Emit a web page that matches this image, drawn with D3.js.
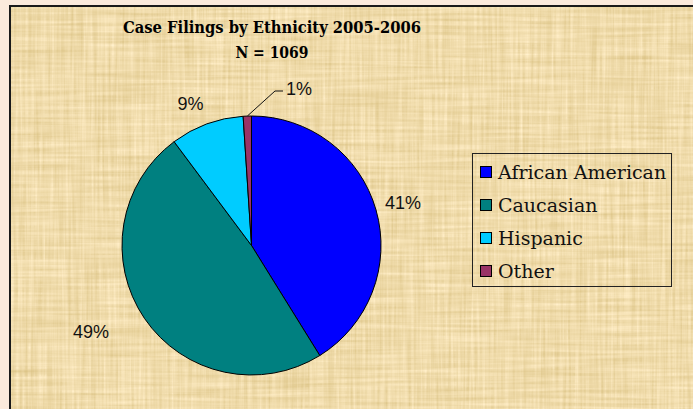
<!DOCTYPE html>
<html>
<head>
<meta charset="utf-8">
<script src="https://cdn.jsdelivr.net/npm/d3@7"></script>
<style>
  html, body { margin: 0; padding: 0; background: #fbeadc; overflow: hidden; }
</style>
</head>
<body>
<div class="chart"></div>
<script>
'use strict'

// data
const categories = ['African American', 'Caucasian', 'Hispanic', 'Other']
const counts = [440, 520, 98, 11]
const colors = ['#0000ff', '#008080', '#00ccff', '#993366']
const titleLines = ['Case Filings by Ethnicity 2005-2006', 'N = 1069']

const width = 693
const height = 409
const cx = 251.5
const cy = 245.5
const radius = 129.5

// label placement (polar, degrees clockwise from 12 o'clock, px from centre)
const labelPolar = [[74.3, 157.3], [241.8, 182.1], [336.7, 154.1], null]

const svg = d3.select('.chart').append('svg')
    .attr('width', width)
    .attr('height', height)

// parchment texture
const defs = svg.append('defs')
const f = defs.append('filter')
    .attr('id', 'paper')
    .attr('x', 0).attr('y', 0).attr('width', '100%').attr('height', '100%')
    .attr('color-interpolation-filters', 'sRGB')
f.append('feTurbulence')
    .attr('type', 'fractalNoise').attr('baseFrequency', '0.35 0.012')
    .attr('numOctaves', 2).attr('seed', 4).attr('result', 'v')
f.append('feTurbulence')
    .attr('type', 'fractalNoise').attr('baseFrequency', '0.012 0.3')
    .attr('numOctaves', 2).attr('seed', 9).attr('result', 'h')
f.append('feComposite')
    .attr('in', 'v').attr('in2', 'h').attr('operator', 'arithmetic')
    .attr('k1', 0).attr('k2', 0.5).attr('k3', 0.5).attr('k4', 0).attr('result', 'n')
f.append('feColorMatrix')
    .attr('in', 'n').attr('type', 'matrix')
    .attr('values', [
      '0.22 0 0 0 0.83',
      '0.26 0 0 0 0.73',
      '0.40 0 0 0 0.47',
      '0 0 0 0 1'
    ].join(' '))

svg.append('rect')
    .attr('x', 10).attr('y', 6)
    .attr('width', width).attr('height', height)
    .attr('fill', '#ecd9a6')
    .attr('filter', 'url(#paper)')
svg.append('rect')
    .attr('x', 10).attr('y', 6)
    .attr('width', width + 10).attr('height', height + 10)
    .style('fill', 'none').style('stroke', '#1a1a1a').style('stroke-width', 2)

// title
const title = svg.append('g')
    .style('font-family', '"DejaVu Serif", serif')
    .style('font-weight', 'bold')
    .style('font-size', '17.5px')
    .style('fill', '#000')
title.selectAll('text')
    .data(titleLines)
  .enter().append('text')
    .attr('x', 272)
    .attr('y', (d, i) => 32.5 + i * 25)
    .attr('text-anchor', 'middle')
    .attr('textLength', (d, i) => i ? 73 : 298)
    .attr('lengthAdjust', 'spacingAndGlyphs')
    .text(d => d)

// pie
const pie = d3.pie().sort(null).value(d => d)
const arcs = pie(counts)
const total = d3.sum(counts)
const arc = d3.arc().innerRadius(0).outerRadius(radius)

const g = svg.append('g')
    .attr('transform', 'translate(' + cx + ',' + cy + ')')

g.selectAll('.slice')
    .data(arcs)
  .enter().append('path')
    .attr('class', 'slice')
    .attr('d', arc)
    .style('fill', (d, i) => colors[i])
    .style('stroke', '#000')
    .style('stroke-width', 1)

function polar(deg, r) {
  const a = deg * Math.PI / 180
  return [Math.sin(a) * r, -Math.cos(a) * r]
}

const pct = d => Math.round(d.value / total * 100) + '%'

const labels = g.append('g')
    .style('font-family', '"Liberation Sans", Arial, sans-serif')
    .style('font-size', '18px')
    .style('fill', '#111')

labels.selectAll('.lbl')
    .data(arcs.filter((d, i) => labelPolar[i]))
  .enter().append('text')
    .attr('class', 'lbl')
    .attr('transform', d => {
      const p = labelPolar[d.index]
      return 'translate(' + polar(p[0], p[1]) + ')'
    })
    .attr('text-anchor', 'middle')
    .attr('dy', '0.35em')
    .text(pct)

// leader line for the thin slice
arcs.filter((d, i) => !labelPolar[i]).forEach(d => {
  const mid = (d.startAngle + d.endAngle) / 2 * 180 / Math.PI
  const p0 = polar(mid, radius)
  const p1 = [23.5, -154.5]
  const p2 = [p1[0] + 8, p1[1]]
  labels.append('path')
      .attr('d', 'M' + p0 + 'L' + p1 + 'L' + p2)
      .style('fill', 'none').style('stroke', '#111').style('stroke-width', 1)
  labels.append('text')
      .attr('x', p2[0] + 3)
      .attr('y', p2[1] - 2)
      .attr('dy', '0.35em')
      .text(pct(d))
})

// legend
const legend = svg.append('g')
legend.append('rect')
    .attr('x', 472.5).attr('y', 153.5)
    .attr('width', 199).attr('height', 133)
    .style('fill', 'none').style('stroke', '#222').style('stroke-width', 1)

const ly = d3.scaleBand().domain(categories).range([155.5, 287.5])

const item = legend.selectAll('.item')
    .data(categories)
  .enter().append('g')
    .attr('class', 'item')
    .attr('transform', d => 'translate(0,' + (ly(d) + ly.bandwidth() / 2) + ')')

item.append('rect')
    .attr('x', 480.5).attr('y', -5.5)
    .attr('width', 11).attr('height', 11)
    .style('fill', (d, i) => colors[i])
    .style('stroke', '#000').style('stroke-width', 1)

item.append('text')
    .attr('x', 498)
    .attr('y', 7)
    .style('font-family', '"DejaVu Serif", serif')
    .style('font-size', '19px')
    .style('fill', '#111')
    .text(d => d)
</script>
</body>
</html>
